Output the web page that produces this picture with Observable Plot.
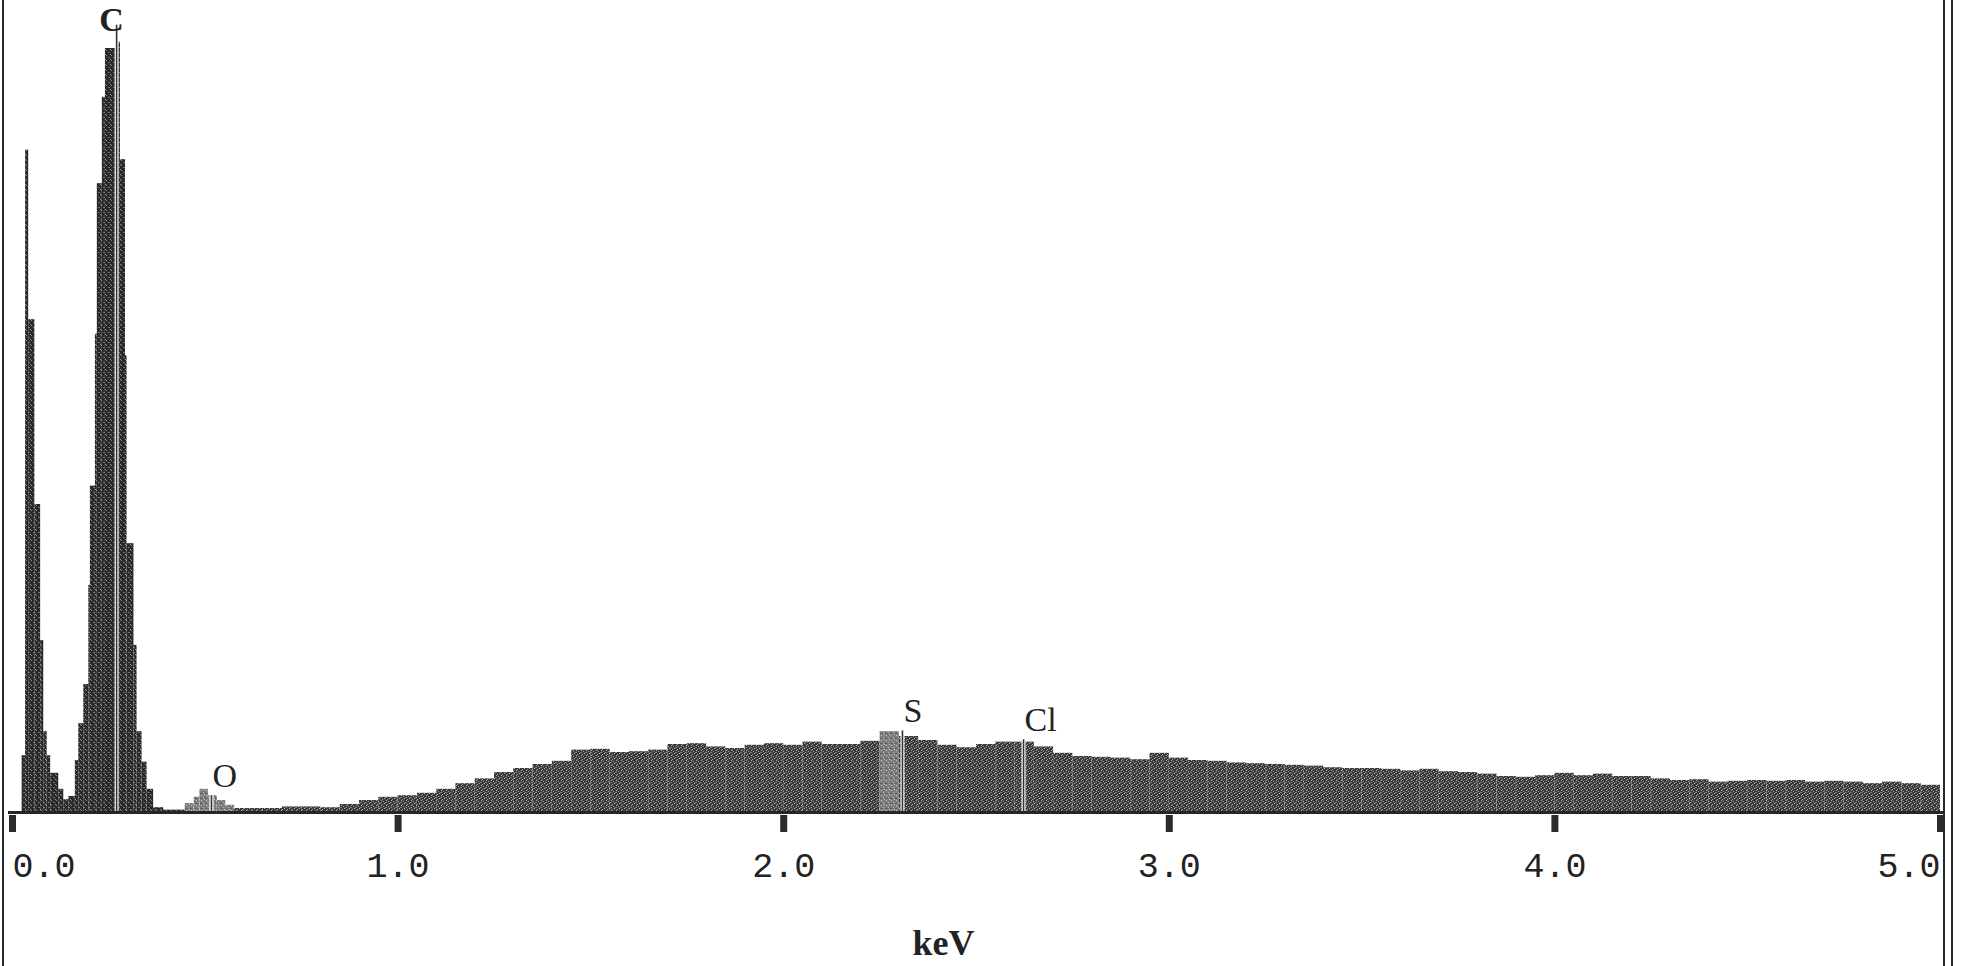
<!DOCTYPE html>
<html>
<head>
<meta charset="utf-8">
<script src="https://cdn.jsdelivr.net/npm/d3@7"></script>
<script src="https://cdn.jsdelivr.net/npm/@observablehq/plot@0.6"></script>
<style>
  html, body { margin: 0; padding: 0; background: #fff; }
  #wrap { position: relative; width: 1964px; height: 966px; overflow: hidden; }
  #wrap svg { position: absolute; left: 0; top: 0; }
  .edge { position: absolute; top: 0; height: 966px; background: #2a2a2a; }
</style>
</head>
<body>
<div id="wrap">
  <div class="edge" style="left:2px;width:2px"></div>
  <div class="edge" style="left:1943px;width:2px"></div>
  <div class="edge" style="left:1951px;width:2px"></div>
</div>
<script>
// ---- Spectrum: low-energy peaks (variable channel groups, keV edges) ----
const peakEdges = [0.025,0.034,0.042,0.058,0.073,0.081,0.090,0.099,0.120,0.133,0.146,
  0.163,0.172,0.185,0.198,0.202,0.215,0.220,0.233,0.241,0.270,0.280,0.293,0.297,0.315,
  0.323,0.336,0.349,0.366,0.392,0.448,0.471,0.486,0.508,0.531,0.553,0.576,0.600];
const peakCounts = [71,828,616,385,215,101,71,49,29,16,20,
  65,111,160,284,408,598,786,894,955,963,816,571,336,209,
  101,63,29,6,3,11,19,29,21,15,9,5];

// ---- Spectrum: continuum, 0.05 keV channels from 0.60 to 5.00 keV ----
const bgStart = 0.60;
const bgStep = 0.05;
const bgCounts = [5,5,7,7,6,10,15,19,21,24,29,36,42,50,55,60,64,78,79,75,
  76,78,85,86,82,80,84,86,84,88,85,85,89,101,95,90,84,81,85,88,
  88,82,74,70,69,68,66,74,68,65,64,62,61,60,59,58,56,55,55,54,
  52,54,51,50,48,45,44,46,49,46,48,45,45,42,40,41,38,39,40,39,
  40,38,39,38,36,38,36,34];

// regions of interest drawn in the lighter tone (keV)
const roiStart = [0.448, 2.25];
const roiEnd   = [0.576, 2.30];

// ---- Element markers ----
const markerElement = ["C", "O", "S", "Cl"];
const markerEnergy  = [0.270, 0.516, 2.308, 2.622];
const markerCounts  = [984, 21, 102, 91];

// ---- Axis ----
const xTicks = [0, 1, 2, 3, 4, 5];
const xTickLabels = ["0.0", "1.0", "2.0", "3.0", "4.0", "5.0"];
const xAxisTitle = "keV";

// build channel table
const channels = [];
for (let i = 0; i < peakCounts.length; i++) {
  channels.push({x1: peakEdges[i], x2: peakEdges[i + 1], n: peakCounts[i]});
}
for (let i = 0; i < bgCounts.length; i++) {
  channels.push({x1: bgStart + i * bgStep, x2: bgStart + (i + 1) * bgStep, n: bgCounts[i]});
}
const inRoi = (c) => roiStart.some((s, k) => c.x1 >= s - 1e-9 && c.x2 <= roiEnd[k] + 1e-9);
const fillFor = (c) => inRoi(c) ? "url(#speckLight)" : (c.x2 <= 0.45 ? "url(#speckDark)" : "url(#speckMid)");

const markers = markerElement.map((e, i) => ({el: e, x: markerEnergy[i], n: markerCounts[i]}));
const ticks = xTicks.map((t, i) => ({x: t, label: xTickLabels[i]}));

const mono = "'Liberation Mono', 'DejaVu Sans Mono', monospace";
const serif = "'Liberation Serif', 'DejaVu Serif', serif";

const svg = Plot.plot({
  width: 1964,
  height: 966,
  marginLeft: 12,
  marginRight: 24,
  marginTop: 12,
  marginBottom: 154,
  x: {domain: [0, 5], axis: null},
  y: {domain: [0, 1000], axis: null},
  style: {background: "transparent", fontFamily: mono},
  marks: [
    Plot.rectY(channels, {x1: "x1", x2: "x2", y: "n", fill: fillFor, inset: 0}),
    Plot.ruleX(markers, {x: "x", y1: 0, y2: "n", stroke: "white", strokeWidth: 4}),
    Plot.ruleX(markers, {x: "x", y1: 0, y2: "n", stroke: "#333", strokeWidth: 1.6}),
    Plot.ruleY([0], {stroke: "#262626", strokeWidth: 3, insetLeft: -4, insetRight: -5}),
    Plot.ruleX(ticks, {x: "x", y1: 0, y2: 0, stroke: "#2a2a2a", strokeWidth: 7, insetTop: 3, insetBottom: -20}),
    Plot.text(ticks.slice(0, 1), {x: "x", y: 0, text: "label", textAnchor: "start", lineAnchor: "middle", dy: 53, fontSize: 35, fill: "#222"}),
    Plot.text(ticks.slice(1, -1), {x: "x", y: 0, text: "label", textAnchor: "middle", lineAnchor: "middle", dy: 53, fontSize: 35, fill: "#222"}),
    Plot.text(ticks.slice(-1), {x: "x", y: 0, text: "label", textAnchor: "end", lineAnchor: "middle", dy: 53, fontSize: 35, fill: "#222"}),
    Plot.text([xAxisTitle], {frameAnchor: "bottom", text: (d) => d, dx: -33, dy: 142, lineAnchor: "bottom", fontSize: 36, fontWeight: "bold", fontFamily: serif, fill: "#222"}),
    Plot.text(markers.slice(1), {x: "x", y: "n", text: "el", textAnchor: "start", lineAnchor: "bottom", dx: 1, dy: -9, fontSize: 34, fontFamily: serif, fill: "#222"}),
    Plot.text(markers.slice(0, 1), {x: "x", frameAnchor: "top", text: "el", textAnchor: "middle", lineAnchor: "bottom", dx: -5, dy: 18, fontSize: 34, fontWeight: "bold", fontFamily: serif, fill: "#222"})
  ]
});

const NS = "http://www.w3.org/2000/svg";
const defs = document.createElementNS(NS, "defs");
defs.innerHTML = `
<pattern id="speckDark" width="5" height="5" patternUnits="userSpaceOnUse">
  <rect width="5" height="5" fill="#2a2a2a"/>
  <rect x="1" y="0" width="1" height="1" fill="#8a8a8a"/>
  <rect x="3" y="2" width="2" height="1" fill="#6e6e6e"/>
  <rect x="0" y="4" width="1" height="1" fill="#9a9a9a"/>
</pattern>
<pattern id="speckMid" width="5" height="5" patternUnits="userSpaceOnUse">
  <rect width="5" height="5" fill="#3a3a3a"/>
  <rect x="1" y="0" width="1" height="1" fill="#b0b0b0"/>
  <rect x="3" y="1" width="1" height="1" fill="#9c9c9c"/>
  <rect x="0" y="2" width="2" height="1" fill="#7e7e7e"/>
  <rect x="4" y="3" width="1" height="1" fill="#c0c0c0"/>
  <rect x="2" y="4" width="1" height="1" fill="#a0a0a0"/>
</pattern>
<pattern id="speckLight" width="5" height="5" patternUnits="userSpaceOnUse">
  <rect width="5" height="5" fill="#7c7c7c"/>
  <rect x="1" y="0" width="1" height="1" fill="#c8c8c8"/>
  <rect x="3" y="2" width="1" height="1" fill="#b4b4b4"/>
  <rect x="0" y="3" width="2" height="1" fill="#5c5c5c"/>
  <rect x="4" y="4" width="1" height="1" fill="#d0d0d0"/>
</pattern>`;
svg.insertBefore(defs, svg.firstChild);

document.getElementById("wrap").appendChild(svg);
</script>
</body>
</html>
